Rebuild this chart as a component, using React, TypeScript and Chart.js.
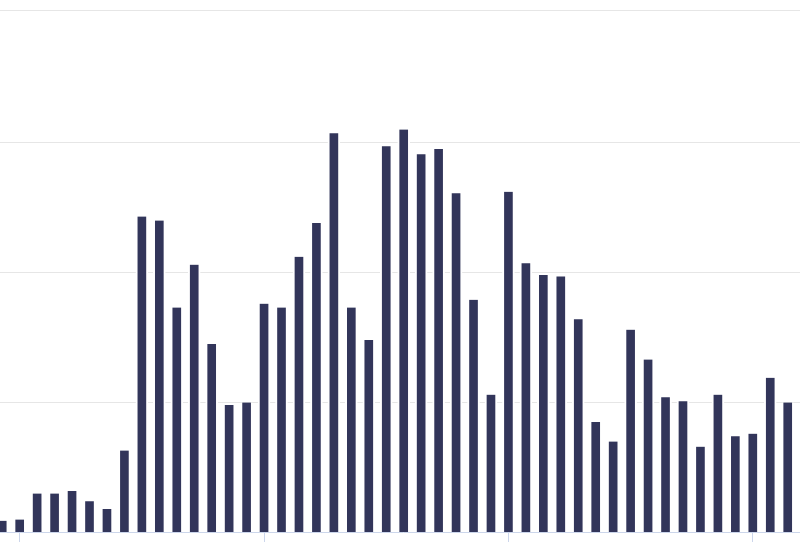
import React, { useEffect, useRef } from "react";
import { Chart, registerables } from "chart.js";

Chart.register(...registerables);

const CATEGORIES = [
  "1", "2", "3", "4", "5", "6", "7", "8", "9", "10",
  "11", "12", "13", "14", "15", "16", "17", "18", "19", "20",
  "21", "22", "23", "24", "25", "26", "27", "28", "29", "30",
  "31", "32", "33", "34", "35", "36", "37", "38", "39", "40",
  "41", "42", "43", "44", "45", "46", "47",
];

const VALUES: (number | null)[] = [
  0.9, 1.0, 3.0, 3.0, 3.2, 2.4, 1.8, 6.3, 24.3, 24.0,
  17.3, 20.6, 14.5, 9.8, 10.0, 17.6, 17.3, 21.2, 23.8, 30.7,
  17.3, 14.8, 29.7, 31.0, 29.1, 29.5, 26.1, 17.9, 10.6, 26.2,
  20.7, 19.8, 19.7, 16.4, 8.5, 7.0, 15.6, 13.3, 10.4, 10.1,
  6.6, 10.6, 7.4, 7.6, 11.9, 10.0, null,
];

const Y_MAX = 40.15;
const Y_TICKS = [0, 10, 20, 30, 40.15];
const TICK_INDICES = [1, 15, 29, 43];

const BAR_COLOR = "#32355a";
const GRID_COLOR = "#e6e6e6";
const AXIS_COLOR = "#ccd6eb";

export default function App() {
  const ref = useRef<HTMLCanvasElement | null>(null);

  useEffect(() => {
    if (!ref.current) return;
    const chart = new Chart(ref.current, {
      type: "bar",
      data: {
        labels: CATEGORIES,
        datasets: [
          {
            data: VALUES,
            backgroundColor: BAR_COLOR,
            borderColor: "#ffffff",
            borderWidth: { top: 0, left: 2, right: 2, bottom: 0 },
            barThickness: 12,
          },
        ],
      },
      options: {
        responsive: false,
        animation: false,
        devicePixelRatio: 1,
        layout: { padding: { left: 13.5, right: 6.1, top: 10.5, bottom: 17.5 } },
        plugins: { legend: { display: false }, tooltip: { enabled: false } },
        scales: {
          x: {
            offset: true,
            grid: {
              offset: false,
              drawOnChartArea: false,
              drawTicks: true,
              tickLength: 10,
              tickWidth: 1,
              tickColor: (ctx: any) =>
                TICK_INDICES.includes(ctx.index) ? AXIS_COLOR : "rgba(0,0,0,0)",
            },
            border: { display: true, color: AXIS_COLOR, width: 1 },
            ticks: { display: false, autoSkip: false },
          },
          y: {
            min: 0,
            max: Y_MAX,
            afterBuildTicks: (axis: any) => {
              axis.ticks = Y_TICKS.map((v) => ({ value: v }));
            },
            grid: {
              color: (ctx: any) =>
                ctx.tick && ctx.tick.value === 0 ? "rgba(0,0,0,0)" : GRID_COLOR,
              drawTicks: false,
              lineWidth: 1,
            },
            border: { display: false },
            ticks: { display: false },
          },
        },
      },
    } as any);
    return () => chart.destroy();
  }, []);

  return (
    <div
      style={{
        position: "fixed",
        left: 0,
        top: 0,
        width: 800,
        height: 542,
        overflow: "hidden",
        background: "#ffffff",
      }}
    >
      <canvas
        ref={ref}
        width={840}
        height={560}
        style={{ position: "absolute", left: -20, top: 0, width: 840, height: 560 }}
      />
    </div>
  );
}
